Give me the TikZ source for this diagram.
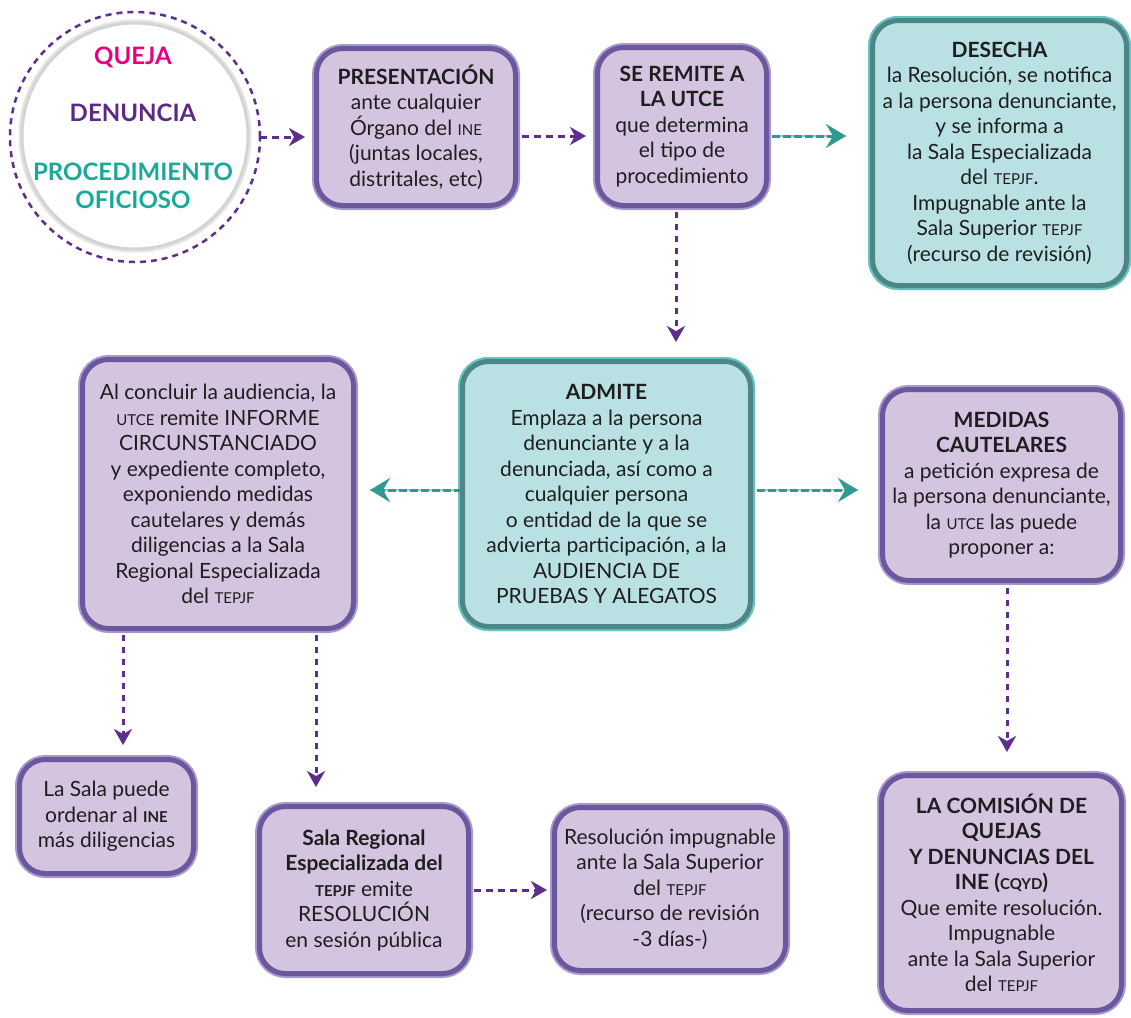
\documentclass[tikz,border=0pt]{standalone}
\usepackage{fontspec}
\setmainfont{Lato}
\usetikzlibrary{arrows.meta}
\definecolor{pfill}{HTML}{D5C4E0}
\definecolor{pdark}{HTML}{6A579D}
\definecolor{plight}{HTML}{A998CD}
\definecolor{tfill}{HTML}{B9E1E4}
\definecolor{tdark}{HTML}{4E8688}
\definecolor{tlightb}{HTML}{5FC6C0}
\definecolor{parrow}{HTML}{5E2D90}
\definecolor{tarrow}{HTML}{2E9A92}
\definecolor{tline}{HTML}{8FD0CB}
\definecolor{txt}{HTML}{1E1E1E}
\definecolor{pinkq}{HTML}{E6007E}
\definecolor{purq}{HTML}{5B2A86}
\definecolor{tealq}{HTML}{19A999}
\definecolor{ringgrey}{HTML}{D4D4D4}
\newcommand\smc[1]{{\fontsize{15}{15}\selectfont #1}}
\newcommand\bodyfont{\fontsize{21}{25.5}\selectfont}
\tikzset{
  pbox/.style={rectangle, rounded corners=26pt, fill=pfill, draw=pdark, line width=5pt,
    preaction={draw=plight, line width=9pt}, outer sep=0pt, inner sep=0pt,
    align=center, text=txt, font=\bodyfont},
  tbox/.style={pbox, fill=tfill, draw=tdark, preaction={draw=tlightb, line width=9pt}},
  parr/.style={draw=parrow, line width=3pt, dash pattern=on 7pt off 5pt,
    -{Stealth[length=16pt,width=18pt,inset=5pt]}},
  parrv/.style={parr, dash pattern=on 6pt off 6pt},
  tarr/.style={draw=tarrow, line width=3pt, dash pattern=on 8pt off 3pt,
    -{Stealth[length=20pt,width=24pt,inset=7pt]},
    preaction={draw=tline, solid, line width=2pt, -}},
}
\begin{document}
\begin{tikzpicture}[x=1pt,y=-1pt]
\useasboundingbox[fill=white] (0,0) rectangle (1131,1017);

% source circle
\node[circle, minimum size=250pt, draw=parrow, line width=2.5pt, dash pattern=on 6pt off 5pt, inner sep=0pt, outer sep=0pt] (src) at (135,137) {};
\node[circle, minimum size=226pt, fill=white, draw=ringgrey, line width=3pt, preaction={draw=black!10, line width=7pt}, inner sep=0pt] (ring) at (135,136) {};
\node[font=\fontsize{24}{28}\selectfont\bfseries, text=pinkq] (q1) at (133,57) {QUEJA};
\node[font=\fontsize{24}{28}\selectfont\bfseries, text=purq] (q2) at (133,113) {DENUNCIA};
\node[font=\fontsize{24}{28}\selectfont\bfseries, text=tealq, align=center] (q3) at (133,186) {PROCEDIMIENTO\\OFICIOSO};

% boxes
\node[pbox, minimum width=199pt, minimum height=157pt] (pres) at (416,127)
  {{\bfseries PRESENTACIÓN}\\ante cualquier\\Órgano del \smc{INE}\\(juntas locales,\\distritales, etc)};
\node[pbox, minimum width=169pt, minimum height=158pt] (remite) at (682,126.5)
  {{\bfseries SE REMITE A}\\{\bfseries LA UTCE}\\que determina\\el tipo de\\procedimiento};
\node[tbox, minimum width=254pt, minimum height=265pt] (desecha) at (999.5,153)
  {{\bfseries DESECHA}\\la Resolución, se notifica\\a la persona denunciante,\\y se informa a\\la Sala Especializada\\del \smc{TEPJF}.\\Impugnable ante la\\Sala Superior \smc{TEPJF}\\(recurso de revisión)};
\node[tbox, minimum width=288pt, minimum height=265pt] (admite) at (606.5,494)
  {{\bfseries ADMITE}\\Emplaza a la persona\\denunciante y a la\\denunciada, así como a\\cualquier persona\\o entidad de la que se\\advierta participación, a la\\AUDIENCIA DE\\PRUEBAS Y ALEGATOS};
\node[pbox, minimum width=271pt, minimum height=269pt] (concl) at (218,494)
  {Al concluir la audiencia, la\\\smc{UTCE} remite INFORME\\CIRCUNSTANCIADO\\y expediente completo,\\exponiendo medidas\\cautelares y demás\\diligencias a la Sala\\Regional Especializada\\del \smc{TEPJF}};
\node[pbox, minimum width=238pt, minimum height=191pt] (medidas) at (1001.5,485)
  {{\bfseries MEDIDAS}\\{\bfseries CAUTELARES}\\a petición expresa de\\la persona denunciante,\\la \smc{UTCE} las puede\\proponer a:};
\node[pbox, minimum width=240pt, minimum height=235pt] (comision) at (1001.5,893)
  {{\bfseries LA COMISIÓN DE}\\{\bfseries QUEJAS}\\{\bfseries Y DENUNCIAS DEL}\\{\bfseries INE (\smc{CQYD})}\\Que emite resolución.\\Impugnable\\ante la Sala Superior\\del \smc{TEPJF}};
\node[pbox, minimum width=231pt, minimum height=163pt] (resol) at (670,889)
  {Resolución impugnable\\ante la Sala Superior\\del \smc{TEPJF}\\(recurso de revisión\\-3 días-)};
\node[pbox, minimum width=209pt, minimum height=167pt] (salareg) at (364,890)
  {{\bfseries Sala Regional}\\{\bfseries Especializada del}\\{\bfseries\smc{TEPJF}} emite\\RESOLUCIÓN\\en sesión pública};
\node[pbox, minimum width=174pt, minimum height=114pt] (lasala) at (106.5,816.5)
  {La Sala puede\\ordenar al {\bfseries\smc{INE}}\\más diligencias};

% connectors
\coordinate (c1) at (123,0);
\coordinate (c2) at (316,0);
\draw[parr, shorten >=11.5pt] (src.east) -- (src.east -| pres.west);
\draw[parr, shorten <=6.5pt, shorten >=11.5pt] ([yshift=-9pt]pres.east) -- ([yshift=-9pt]pres.east -| remite.west);
\draw[tarr, shorten <=5.5pt, shorten >=26.5pt] ([yshift=-9.5pt]remite.east) -- ([yshift=-9.5pt]remite.east -| desecha.west);
\draw[parrv, shorten <=6.5pt, shorten >=19.5pt] ([xshift=-6pt]remite.south) -- ([xshift=-6pt]remite.south |- admite.north);
\draw[tarr, shorten <=1pt, shorten >=16.5pt] ([yshift=4pt]admite.west) -- ([yshift=4pt]admite.west -| concl.east);
\draw[tarr, shorten <=6.5pt, shorten >=24.5pt] ([yshift=4pt]admite.east) -- ([yshift=4pt]admite.east -| medidas.west);
\draw[parrv, shorten <=7.5pt, shorten >=23.5pt] ([xshift=5.5pt]medidas.south) -- ([xshift=5.5pt]medidas.south |- comision.north);
\draw[parrv, shorten <=6.5pt, shorten >=14.5pt] (c1 |- concl.south) -- (c1 |- lasala.north);
\draw[parrv, shorten <=6.5pt, shorten >=19.5pt] (c2 |- concl.south) -- (c2 |- salareg.north);
\draw[parr, shorten <=5.5pt, shorten >=7.5pt] (salareg.east) -- (salareg.east -| resol.west);
\end{tikzpicture}
\end{document}
